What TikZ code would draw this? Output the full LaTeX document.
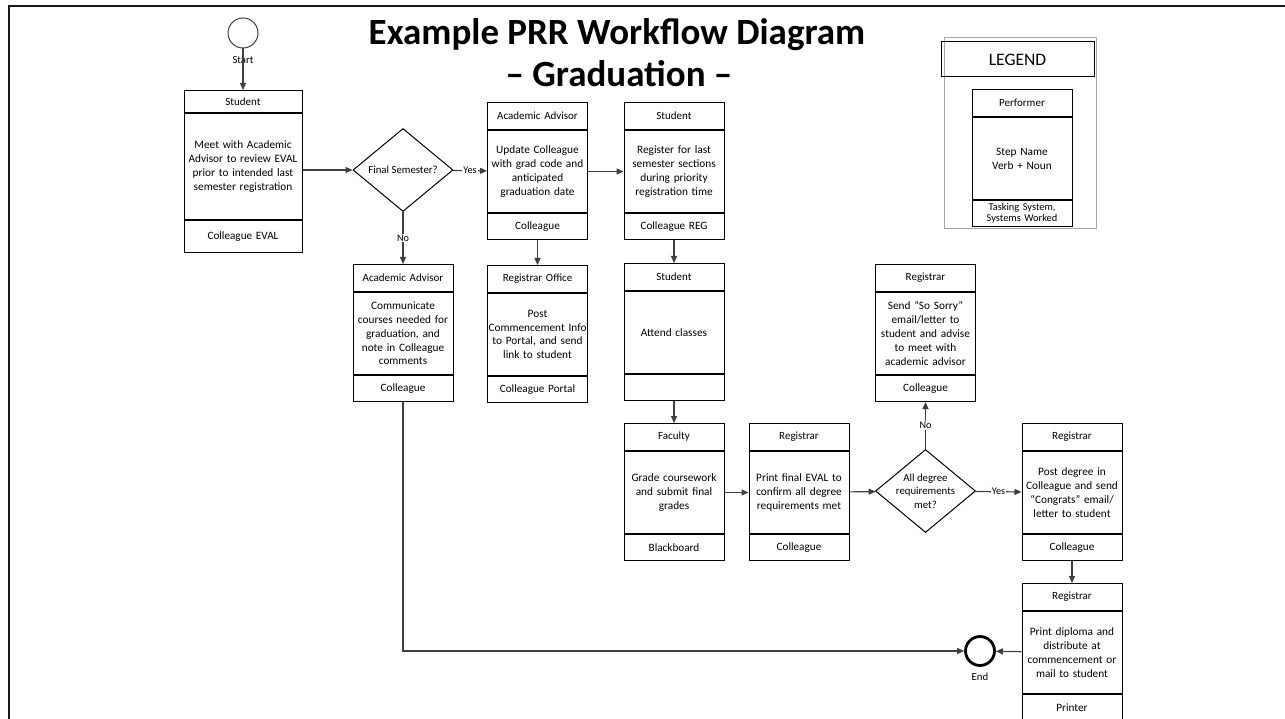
\documentclass[tikz,border=0pt]{standalone}
\usepackage{fontspec}
\setmainfont{Carlito}
\usetikzlibrary{shapes.geometric}
\usetikzlibrary{positioning}
\usetikzlibrary{arrows.meta}
\definecolor{flowgray}{HTML}{3F3F3F}
\definecolor{legendgray}{HTML}{A6A6A6}
\tikzset{performer/.style={draw,anchor=north,minimum height=27pt,text width=100pt,inner xsep=0pt,inner ysep=0pt,
                           align=center,font=\fontsize{11}{12}\selectfont},
         stepbody/.style={draw,minimum height=82pt,text width=100pt,inner xsep=0pt,inner ysep=0pt,
                          align=center,font=\fontsize{11.3}{13.8}\selectfont},
         system/.style={draw,minimum height=26pt,text width=100pt,inner xsep=0pt,inner ysep=0pt,
                        align=center,font=\fontsize{11.2}{12}\selectfont},
         decision/.style={draw,diamond,minimum width=100pt,minimum height=83pt,inner sep=0pt,
                          font=\fontsize{10.8}{13.4}\selectfont},
         flow/.style={draw=flowgray,line width=1.2pt,-{Triangle[length=7pt,width=6pt]}},
         lbl/.style={fill=white,inner sep=1pt,font=\fontsize{10.2}{12}\selectfont},
         every label/.style={font=\fontsize{10.8}{12}\selectfont},
         }
% one process step: name, top centre, performer, step, system
\newcommand{\prrstep}[5]{%
  \node[performer] (#1-p) at (#2) {#3};
  \node[stepbody,below=0pt of #1-p] (#1) {#4};
  \node[system,below=0pt of #1] (#1-s) {#5};
}

\begin{document}
\begin{tikzpicture}[x=1pt,y=-1pt,line width=1pt]
\useasboundingbox (0,0) rectangle (1285,719);
\draw[line width=2.5pt,black!90] (9,719) -- (9,6) -- (1285,6);

\node[font=\bfseries\fontsize{37}{44}\selectfont,anchor=base] (title) at (617,45) {Example PRR Workflow Diagram};
\node[font=\bfseries\fontsize{37}{44}\selectfont,anchor=base] (subtitle) at (619,87) {– Graduation –};

% legend
\node[draw=legendgray,minimum width=152pt,minimum height=191pt] (legend) at (1020,133.5) {};
\node[draw,minimum width=153pt,minimum height=35pt,font=\fontsize{17.5}{20}\selectfont] (legendhead) at (1017.5,59.5) {LEGEND};
\begin{scope}[system/.append style={font=\fontsize{10.4}{11.4}\selectfont}]
\prrstep{key}{1022,89}{Performer}{Step Name\\Verb + Noun}{Tasking System,\\Systems Worked}
\end{scope}

% steps
\node[circle,draw=flowgray,minimum size=30pt,label={[label distance=4pt]below:Start}] (start) at (243,33) {};
\begin{scope}[performer/.append style={minimum height=22pt,text width=118pt},
              stepbody/.append style={minimum height=106pt,text width=118pt},
              system/.append style={minimum height=32pt,text width=118pt}]
\prrstep{s1}{243,90}{Student}{Meet with Academic\\Advisor to review EVAL\\prior to intended last\\semester registration}{Colleague EVAL}
\end{scope}
\draw[line width=2pt] (s1-p.south west) -- (s1-p.south east);

\node[decision] (fs) at (403,170) {Final Semester?};

\prrstep{aa1}{537.5,102}{Academic Advisor}{Update Colleague\\with grad code and\\anticipated\\graduation date}{Colleague}
\prrstep{reg}{674,102}{Student}{Register for last\\semester sections\\during priority\\registration time}{Colleague REG}
\prrstep{aa2}{403,264}{Academic Advisor}{Communicate\\courses needed for\\graduation, and\\note in Colleague\\comments}{Colleague}
\prrstep{ro}{537.5,265}{Registrar Office}{Post\\Commencement Info\\to Portal, and send\\link to student}{Colleague Portal}
\draw[line width=2pt] (ro-p.south west) -- (ro-p.south east);
\prrstep{att}{674,263}{Student}{Attend classes}{}
\prrstep{sorry}{925.5,264}{Registrar}{Send “So Sorry”\\email/letter to\\student and advise\\to meet with\\academic advisor}{Colleague}
\prrstep{fac}{674,423}{Faculty}{Grade coursework\\and submit final\\grades}{Blackboard}
\prrstep{pe}{799,423}{Registrar}{Print final EVAL to\\confirm all degree\\requirements met}{Colleague}
\node[decision,label={[align=center,font=\fontsize{10.8}{13.4}\selectfont]center:{All degree\\requirements\\met?}}] (deg) at (925.5,491) {};
\prrstep{pd}{1072,423}{Registrar}{Post degree in\\Colleague and send\\“Congrats” email/\\letter to student}{Colleague}
\prrstep{dip}{1072,583}{Registrar}{Print diploma and\\distribute at\\commencement or\\mail to student}{Printer}
\node[circle,draw,line width=2.8pt,minimum size=29pt,outer sep=1.4pt,label={[label distance=2pt]below:End}] (end) at (980,651) {};

% connectors
\draw[flow] (start) -- (s1-p);
\draw[flow] (s1.east |- fs) -- (fs);
\draw[flow] (fs) -- node[lbl] {Yes} (aa1);
\draw[flow] (fs) -- node[lbl] {No} (aa2-p);
\draw[flow] (aa1) -- (reg);
\draw[flow] (aa1-s) -- (ro-p);
\draw[flow] (reg-s) -- (att-p);
\draw[flow] (att-s) -- (fac-p);
\draw[flow] (fac) -- (pe);
\draw[flow] (pe) -- (deg);
\draw[flow] (deg) -- node[lbl] {Yes} (pd);
\draw[flow] (deg) -- node[lbl] {No} (sorry-s);
\draw[flow] (pd-s) -- (dip-p);
\draw[flow] (dip) -- (end);
\draw[flow] (aa2-s) |- (end);
\end{tikzpicture}
\end{document}
